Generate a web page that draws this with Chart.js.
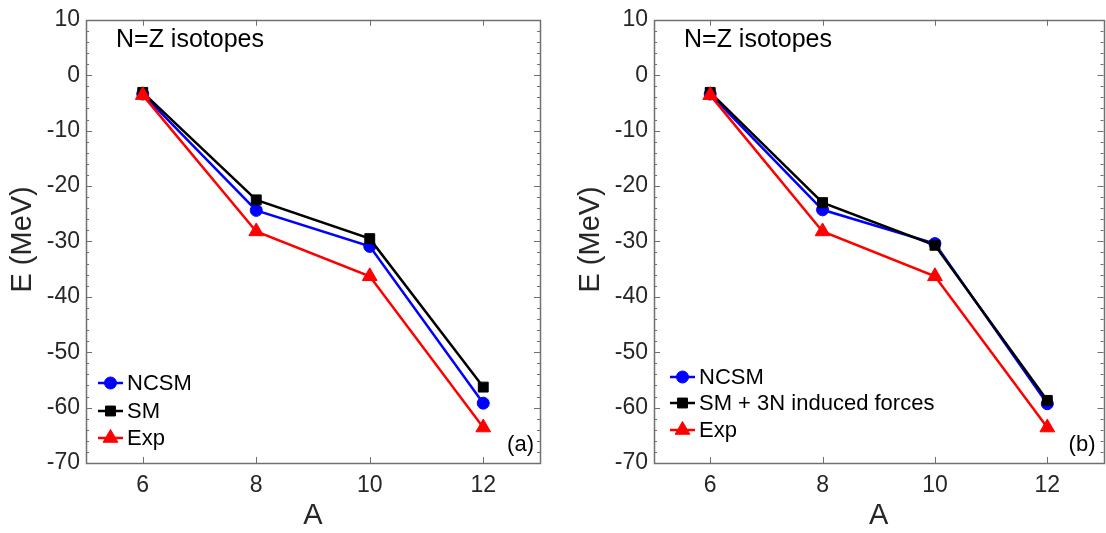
<!DOCTYPE html>
<html>
<head>
<meta charset="utf-8">
<script src="https://cdn.jsdelivr.net/npm/chart.js@4.4.1/dist/chart.umd.min.js"></script>
<style>
    html, body { margin: 0; padding: 0; background: #fff; overflow: hidden; }
    .panel { position: absolute; top: 0; }
    #chartA { left: 0; }
    #chartB { left: 553px; }
</style>
</head>
<body>
<canvas id="chartA" class="panel" width="553" height="533"></canvas>
<canvas id="chartB" class="panel" width="560" height="533"></canvas>
<script>
// mass number A of the N=Z isotopes
const massNumbers = [6, 8, 10, 12];
const xTickValues = [6, 8, 10, 12];

// energies in MeV
const ncsmA = [-3.4, -24.4, -30.9, -59.2];
const smA = [-3.1, -22.5, -29.5, -56.3];
const ncsmB = [-3.4, -24.3, -30.4, -59.3];
const sm3nB = [-3.1, -23.0, -30.7, -58.7];
const expData = [-3.6, -28.2, -36.3, -63.6];

const FONT = "'Liberation Sans', Arial, Helvetica, sans-serif";

function toPoints(values) {
    return values.map((v, i) => ({ x: massNumbers[i], y: v }));
}

// box, inward ticks, legend and text labels like the original figure
const framePlugin = {
    id: 'frame',
    beforeDatasetsDraw(chart) {
        const { ctx, chartArea: a, scales: { x, y } } = chart;
        ctx.save();
        ctx.strokeStyle = '#707070';
        ctx.lineWidth = 1;
        ctx.beginPath();
        for (let v = y.min; v <= y.max; v += 2) {
            const py = Math.round(y.getPixelForValue(v)) + 0.5;
            const len = v % 10 === 0 ? 6 : 3;
            ctx.moveTo(a.left, py);
            ctx.lineTo(a.left + len, py);
            ctx.moveTo(a.right, py);
            ctx.lineTo(a.right - len, py);
        }
        xTickValues.forEach(v => {
            const px = Math.round(x.getPixelForValue(v)) + 0.5;
            ctx.moveTo(px, a.bottom);
            ctx.lineTo(px, a.bottom - 6);
            ctx.moveTo(px, a.top);
            ctx.lineTo(px, a.top + 6);
        });
        ctx.stroke();
        ctx.lineWidth = 1.5;
        ctx.strokeRect(Math.round(a.left) + 0.5, Math.round(a.top) + 0.5,
            Math.round(a.right - a.left), Math.round(a.bottom - a.top));
        ctx.restore();
    },
    afterDraw(chart, args, opts) {
        const { ctx, chartArea: a } = chart;
        ctx.save();

        // axis titles
        ctx.fillStyle = '#262626';
        ctx.textAlign = 'center';
        ctx.textBaseline = 'middle';
        ctx.font = '29px ' + FONT;
        ctx.fillText('A', (a.left + a.right) / 2, 516);
        ctx.save();
        ctx.translate(a.left - 63, (a.top + a.bottom) / 2 - 2);
        ctx.rotate(-Math.PI / 2);
        ctx.fillText('E (MeV)', 0, 0);
        ctx.restore();

        // annotation text
        ctx.fillStyle = '#000';
        ctx.textAlign = 'left';
        ctx.font = '25px ' + FONT;
        ctx.fillText('N=Z isotopes', a.left + 30, 40);
        ctx.textAlign = 'right';
        ctx.font = '22px ' + FONT;
        ctx.fillText(opts.tag, a.right - opts.tagInset, 445);

        // legend
        ctx.textAlign = 'left';
        chart.data.datasets.forEach((ds, i) => {
            const lx = a.left + opts.legendX;
            const ly = opts.legendY[i];
            ctx.strokeStyle = ds.borderColor;
            ctx.lineWidth = 2.5;
            ctx.beginPath();
            ctx.moveTo(lx, ly);
            ctx.lineTo(lx + 25, ly);
            ctx.stroke();
            ctx.fillStyle = ds.backgroundColor;
            ctx.lineWidth = 1;
            Chart.helpers.drawPoint(ctx, {
                pointStyle: ds.pointStyle,
                radius: ds.pointRadius,
                rotation: 0,
                borderWidth: 1
            }, lx + 12.5, ly);
            ctx.fillStyle = '#000';
            ctx.fillText(ds.label, lx + 29, ly + 1);
        });
        ctx.restore();
    }
};

function makeDatasets(ncsm, sm, smLabel) {
    return [
        {
            label: 'NCSM',
            data: toPoints(ncsm),
            borderColor: '#0000ff',
            backgroundColor: '#0000ff',
            pointStyle: 'circle',
            pointRadius: 6,
            order: 3
        },
        {
            label: smLabel,
            data: toPoints(sm),
            borderColor: '#000000',
            backgroundColor: '#000000',
            pointStyle: 'rect',
            pointRadius: 7,
            order: 2
        },
        {
            label: 'Exp',
            data: toPoints(expData),
            borderColor: '#ff0000',
            backgroundColor: '#ff0000',
            pointStyle: 'triangle',
            pointRadius: 8.5,
            order: 1
        }
    ];
}

function makeChart(canvasId, datasets, yWidth, rightPad, frameOpts) {
    const ctx = document.getElementById(canvasId).getContext('2d');
    return new Chart(ctx, {
        type: 'line',
        data: { datasets: datasets },
        options: {
            responsive: false,
            animation: false,
            events: [],
            layout: { padding: { top: 15, right: rightPad, left: 0, bottom: 0 } },
            elements: {
                line: { borderWidth: 2.5, tension: 0 },
                point: { borderWidth: 1, hoverRadius: 0 }
            },
            plugins: {
                legend: { display: false },
                tooltip: { enabled: false },
                frame: frameOpts
            },
            scales: {
                x: {
                    type: 'linear',
                    min: 5,
                    max: 13,
                    afterBuildTicks: scale => {
                        scale.ticks = xTickValues.map(v => ({ value: v }));
                    },
                    afterFit: scale => { scale.height = 70; },
                    grid: { display: false, drawTicks: false },
                    border: { display: false },
                    ticks: {
                        color: '#262626',
                        padding: 9,
                        font: { family: FONT, size: 23 }
                    }
                },
                y: {
                    min: -70,
                    max: 10,
                    afterFit: scale => { scale.width = yWidth; },
                    grid: { display: false, drawTicks: false },
                    border: { display: false },
                    ticks: {
                        stepSize: 10,
                        color: '#262626',
                        padding: 6,
                        font: { family: FONT, size: 23 }
                    }
                }
            }
        },
        plugins: [framePlugin]
    });
}

makeChart('chartA', makeDatasets(ncsmA, smA, 'SM'), 86, 13, {
    tag: '(a)',
    tagInset: 6,
    legendX: 12,
    legendY: [383, 411, 438]
});

makeChart('chartB', makeDatasets(ncsmB, sm3nB, 'SM + 3N induced forces'), 101, 5, {
    tag: '(b)',
    tagInset: 8,
    legendX: 16,
    legendY: [377, 403, 430]
});
</script>
</body>
</html>
